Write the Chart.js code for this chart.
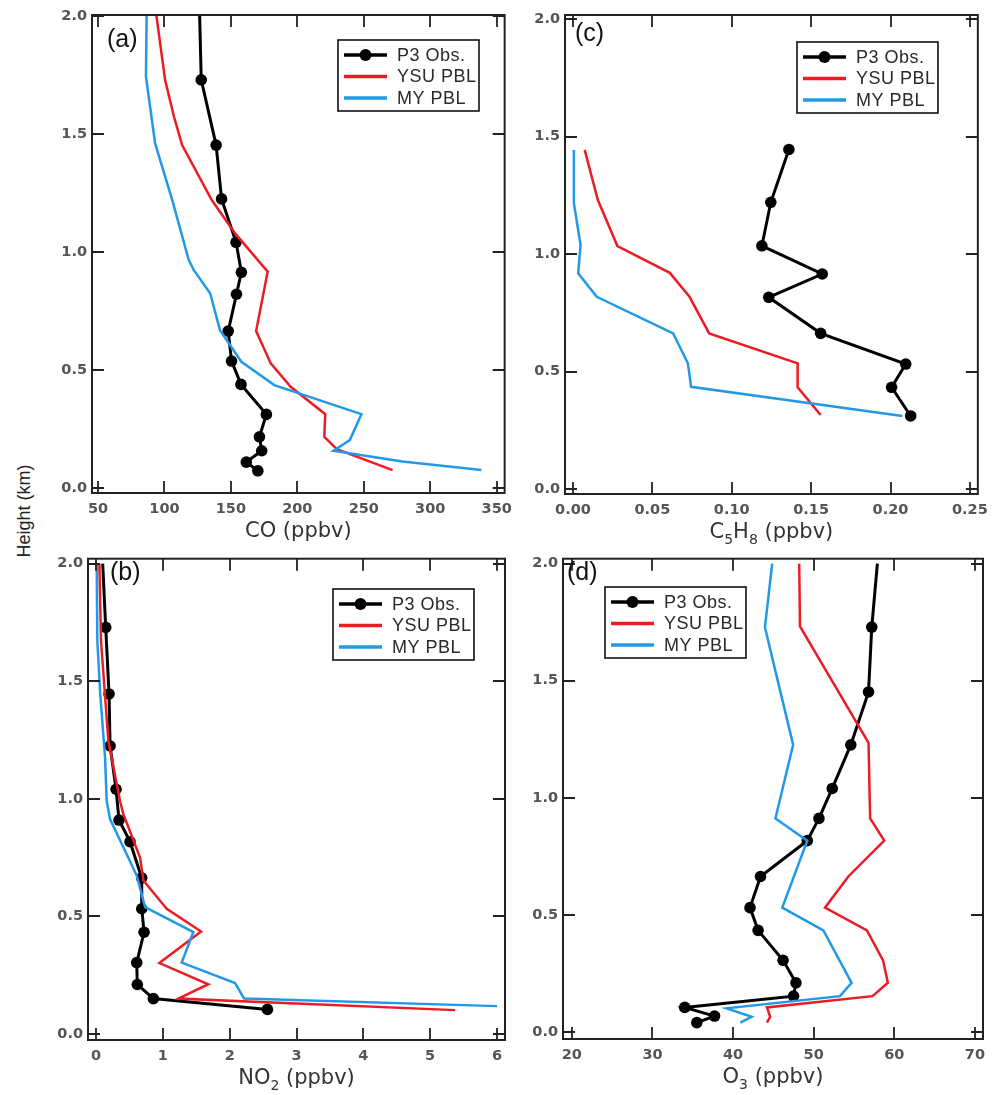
<!DOCTYPE html>
<html>
<head>
<meta charset="utf-8">
<script src="https://cdn.jsdelivr.net/npm/chart.js@4.4.1/dist/chart.umd.min.js"></script>
<style>
  body { margin: 0; background: #fff; }
  #page { position: relative; width: 996px; height: 1095px; overflow: hidden; background: #fff; }
  canvas { position: absolute; }
  #ylab { position: absolute; left: 24px; top: 511px; transform: translate(-50%, -50%) rotate(-90deg);
          font: 18px "Liberation Sans", Arial, sans-serif; color: #222; white-space: nowrap; }
</style>
</head>
<body>
<div id="page">
  <canvas id="pa" width="480" height="545" style="left:40px;top:0px"></canvas>
  <canvas id="pc" width="476" height="545" style="left:520px;top:0px"></canvas>
  <canvas id="pb" width="480" height="550" style="left:40px;top:545px"></canvas>
  <canvas id="pd" width="476" height="550" style="left:520px;top:545px"></canvas>
  <div id="ylab">Height (km)</div>
</div>
<script>
// ---- data (height in km, mixing ratio in ppbv) ----
// (a) CO
const coObsH = [2.0, 1.729, 1.453, 1.225, 1.041, 0.914, 0.821, 0.665, 0.538, 0.439, 0.312, 0.217, 0.158, 0.110, 0.073];
const coObsV = [126.5, 127.7, 138.9, 143.0, 153.9, 157.9, 154.2, 148.0, 150.5, 157.6, 176.7, 171.5, 173.2, 161.6, 170.3];
const coYsuH = [2.0, 1.729, 1.573, 1.453, 1.22, 1.08, 0.917, 0.665, 0.528, 0.429, 0.313, 0.217, 0.165, 0.076];
const coYsuV = [94, 100.5, 107.2, 113.3, 135.6, 153, 177.7, 169, 180, 195, 221, 220.3, 229.7, 271.7];
const coMyH = [2.0, 1.743, 1.46, 1.22, 0.966, 0.924, 0.825, 0.669, 0.535, 0.436, 0.313, 0.203, 0.158, 0.112, 0.076];
const coMyV = [86.6, 86.1, 93, 105.9, 118.3, 122, 134.4, 141.8, 157.9, 182.7, 248.2, 239.5, 227.2, 279, 338.5];

// (c) C5H8
const isoObsH = [1.445, 1.22, 1.035, 0.915, 0.816, 0.6625, 0.532, 0.433, 0.311];
const isoObsV = [0.136, 0.1246, 0.119, 0.157, 0.1233, 0.156, 0.2096, 0.2007, 0.2127];
const isoYsuH = [1.443, 1.23, 1.034, 0.920, 0.818, 0.6625, 0.535, 0.433, 0.315];
const isoYsuV = [0.0074, 0.0157, 0.028, 0.061, 0.0734, 0.0858, 0.1415, 0.1415, 0.156];
const isoMyH = [1.443, 1.216, 1.038, 0.918, 0.818, 0.6625, 0.535, 0.435, 0.311];
const isoMyV = [0.0006, 0.0006, 0.0048, 0.0033, 0.015, 0.0631, 0.0724, 0.0744, 0.2075];

// (b) NO2
const no2ObsH = [2.0, 1.729, 1.446, 1.225, 1.041, 0.910, 0.818, 0.664, 0.533, 0.433, 0.304, 0.211, 0.151, 0.105];
const no2ObsV = [0.10, 0.145, 0.195, 0.21, 0.30, 0.344, 0.509, 0.684, 0.684, 0.719, 0.609, 0.618, 0.858, 2.565];
const no2YsuH = [2.0, 1.67, 1.246, 0.99, 0.935, 0.751, 0.653, 0.533, 0.436, 0.302, 0.212, 0.151, 0.102];
const no2YsuV = [0.05, 0.075, 0.185, 0.36, 0.409, 0.659, 0.709, 1.058, 1.572, 0.948, 1.68, 1.232, 5.374];
const no2MyH = [2.0, 1.67, 1.458, 1.175, 0.99, 0.914, 0.674, 0.54, 0.434, 0.304, 0.217, 0.151, 0.119];
const no2MyV = [0.01, 0.02, 0.06, 0.135, 0.16, 0.21, 0.609, 0.734, 1.457, 1.282, 2.081, 2.216, 6.0];

// (d) O3
const o3ObsH = [2.0, 1.729, 1.452, 1.226, 1.040, 0.912, 0.817, 0.664, 0.531, 0.434, 0.306, 0.21, 0.153, 0.105, 0.068, 0.040];
const o3ObsV = [57.9, 57.2, 56.8, 54.6, 52.3, 50.65, 49.2, 43.4, 42.1, 43.1, 46.2, 47.8, 47.5, 34.0, 37.7, 35.5];
const o3YsuH = [2.0, 1.732, 1.235, 0.912, 0.817, 0.664, 0.531, 0.434, 0.306, 0.21, 0.153, 0.105, 0.065, 0.040];
const o3YsuV = [48.2, 48.3, 56.8, 57.0, 58.75, 54.3, 51.4, 56.6, 58.6, 59.2, 57.3, 44.2, 44.6, 44.2];
const o3MyH = [2.0, 1.728, 1.226, 0.912, 0.817, 0.531, 0.434, 0.21, 0.153, 0.101, 0.065, 0.040];
const o3MyV = [44.85, 43.95, 47.45, 45.25, 49.2, 46.1, 51.2, 54.7, 53.25, 39.2, 42.3, 40.9];

// tick labels
const heightTicks = [0, 0.5, 1.0, 1.5, 2.0];
const coTicks = [50, 100, 150, 200, 250, 300, 350];
const isoTicks = [0, 0.05, 0.10, 0.15, 0.20, 0.25];
const no2Ticks = [0, 1, 2, 3, 4, 5, 6];
const o3Ticks = [20, 30, 40, 50, 60, 70];

const seriesNames = ['P3 Obs.', 'YSU PBL', 'MY PBL'];
const BLACK = '#000000', RED = '#ec1c24', BLUE = '#2199e8';

function pts(vals, hs) {
  return vals.map((v, i) => ({ x: v, y: hs[i] }));
}

// frame, inward ticks, legend, panel tag and axis title
const decor = {
  id: 'decor',
  afterDraw(chart, args, o) {
    const { ctx, chartArea: a, scales } = chart;
    const sx = scales.x, sy = scales.y;
    ctx.save();
    ctx.strokeStyle = '#222';
    ctx.lineWidth = 2;
    ctx.strokeRect(a.left, a.top, a.right - a.left, a.bottom - a.top);
    ctx.lineWidth = 1.8;
    ctx.beginPath();
    sx.ticks.forEach(t => {
      const px = Math.round(sx.getPixelForValue(t.value));
      ctx.moveTo(px, a.bottom); ctx.lineTo(px, a.bottom - 12);
      ctx.moveTo(px, a.top); ctx.lineTo(px, a.top + 12);
    });
    sy.ticks.forEach(t => {
      const py = Math.round(sy.getPixelForValue(t.value));
      ctx.moveTo(a.left, py); ctx.lineTo(a.left + 12, py);
      ctx.moveTo(a.right, py); ctx.lineTo(a.right - 12, py);
    });
    ctx.stroke();

    // panel tag
    ctx.fillStyle = '#111';
    ctx.font = '25px "Liberation Sans", Arial, sans-serif';
    ctx.textBaseline = 'middle';
    ctx.textAlign = 'left';
    ctx.fillText(o.tag, o.tagX, o.tagY);

    // legend
    const lx = o.legX, ly = o.legY;
    ctx.fillStyle = '#fff';
    ctx.fillRect(lx, ly, 141, 71);
    ctx.strokeStyle = '#111';
    ctx.lineWidth = 1.6;
    ctx.strokeRect(lx, ly, 141, 71);
    const colors = [BLACK, RED, BLUE];
    seriesNames.forEach((name, i) => {
      const ry = ly + 15 + i * 21.5;
      ctx.strokeStyle = colors[i];
      ctx.lineWidth = i === 0 ? 3.5 : 3.5;
      ctx.beginPath();
      ctx.moveTo(lx + 6, ry); ctx.lineTo(lx + 49, ry);
      ctx.stroke();
      if (i === 0) {
        ctx.fillStyle = BLACK;
        ctx.beginPath();
        ctx.arc(lx + 27.5, ry, 6, 0, Math.PI * 2);
        ctx.fill();
      }
      ctx.fillStyle = '#2a2a2a';
      ctx.font = '18px "Liberation Sans", Arial, sans-serif';
      ctx.letterSpacing = '0.5px';
      ctx.textBaseline = 'middle';
      ctx.fillText(name, lx + 59, ry + 1);
      ctx.letterSpacing = '0px';
    });

    // axis title with subscripts
    const mainFont = '21px "DejaVu Sans", sans-serif';
    const subFont = '14px "DejaVu Sans", sans-serif';
    let w = 0;
    o.title.forEach(p => { ctx.font = p.sub ? subFont : mainFont; w += ctx.measureText(p.t).width; });
    let x = (a.left + a.right) / 2 - w / 2;
    const y = a.bottom + 39;
    ctx.fillStyle = '#333';
    ctx.textBaseline = 'middle';
    o.title.forEach(p => {
      ctx.font = p.sub ? subFont : mainFont;
      ctx.fillText(p.t, x, p.sub ? y + 7 : y);
      x += ctx.measureText(p.t).width;
    });
    ctx.restore();
  }
};

function makePanel(id, p) {
  const tickFont = { family: '"DejaVu Sans", sans-serif', size: 14.5, weight: 'bold' };
  new Chart(document.getElementById(id), {
    type: 'scatter',
    data: {
      datasets: [
        { label: seriesNames[2], data: pts(p.my[0], p.my[1]), showLine: true, borderColor: BLUE,
          borderWidth: 2.5, pointRadius: 0, fill: false },
        { label: seriesNames[1], data: pts(p.ysu[0], p.ysu[1]), showLine: true, borderColor: RED,
          borderWidth: 2.5, pointRadius: 0, fill: false },
        { label: seriesNames[0], data: pts(p.obs[0], p.obs[1]), showLine: true, borderColor: BLACK,
          borderWidth: 3, backgroundColor: BLACK, pointBorderWidth: 0,
          pointRadius: ctx => (ctx.dataIndex === 0 && ctx.raw && ctx.raw.y > 1.9) ? 0 : 5.8,
          fill: false }
      ]
    },
    options: {
      responsive: false,
      animation: false,
      devicePixelRatio: 1,
      layout: { padding: { top: p.padTop, right: p.padRight, left: 0, bottom: 0 } },
      plugins: {
        legend: { display: false },
        tooltip: { enabled: false },
        decor: { tag: p.tag, tagX: p.tagX, tagY: p.tagY, legX: p.legX, legY: p.legY, title: p.title }
      },
      scales: {
        x: {
          type: 'linear', min: p.xmin, max: p.xmax,
          grid: { display: false, drawTicks: false },
          border: { display: false },
          afterBuildTicks: s => { s.ticks = p.xticks.map(v => ({ value: v })); },
          afterFit: s => { s.height = p.xAxisH; },
          ticks: { autoSkip: false, maxRotation: 0, padding: 8, color: '#555', font: tickFont,
                   callback: v => v.toFixed(p.xdec) }
        },
        y: {
          type: 'linear', min: p.ymin, max: p.ymax,
          grid: { display: false, drawTicks: false },
          border: { display: false },
          afterBuildTicks: s => { s.ticks = heightTicks.map(v => ({ value: v })); },
          afterFit: s => { s.width = p.yAxisW; },
          ticks: { autoSkip: false, padding: 5, color: '#555', font: tickFont,
                   callback: v => v.toFixed(1) }
        }
      }
    },
    plugins: [decor]
  });
}

makePanel('pa', {
  obs: [coObsV, coObsH], ysu: [coYsuV, coYsuH], my: [coMyV, coMyH],
  xmin: 45.5, xmax: 356, xticks: coTicks, xdec: 0,
  ymin: -0.021, ymax: 2.004,
  yAxisW: 52, xAxisH: 52, padTop: 15, padRight: 10,
  tag: '(a)', tagX: 67, tagY: 40, legX: 298, legY: 40,
  title: [{ t: 'CO (ppbv)' }]
});
makePanel('pc', {
  obs: [isoObsV, isoObsH], ysu: [isoYsuV, isoYsuH], my: [isoMyV, isoMyH],
  xmin: -0.005, xmax: 0.255, xticks: isoTicks, xdec: 2,
  ymin: -0.021, ymax: 2.017,
  yAxisW: 45, xAxisH: 51, padTop: 15, padRight: 11,
  tag: '(c)', tagX: 55, tagY: 34, legX: 277, legY: 42,
  title: [{ t: 'C' }, { t: '5', sub: true }, { t: 'H' }, { t: '8', sub: true }, { t: ' (ppbv)' }]
});
makePanel('pb', {
  obs: [no2ObsV, no2ObsH], ysu: [no2YsuV, no2YsuH], my: [no2MyV, no2MyH],
  xmin: -0.12, xmax: 6.12, xticks: no2Ticks, xdec: 0,
  ymin: -0.025, ymax: 2.021,
  yAxisW: 48, xAxisH: 55, padTop: 12, padRight: 15,
  tag: '(b)', tagX: 70, tagY: 28, legX: 293, legY: 44,
  title: [{ t: 'NO' }, { t: '2', sub: true }, { t: ' (ppbv)' }]
});
makePanel('pd', {
  obs: [o3ObsV, o3ObsH], ysu: [o3YsuV, o3YsuH], my: [o3MyV, o3MyH],
  xmin: 18.9, xmax: 71.0, xticks: o3Ticks, xdec: 0,
  ymin: -0.03, ymax: 2.021,
  yAxisW: 43, xAxisH: 56, padTop: 12, padRight: 13,
  tag: '(d)', tagX: 47, tagY: 28, legX: 85, legY: 42,
  title: [{ t: 'O' }, { t: '3', sub: true }, { t: ' (ppbv)' }]
});
</script>
</body>
</html>
